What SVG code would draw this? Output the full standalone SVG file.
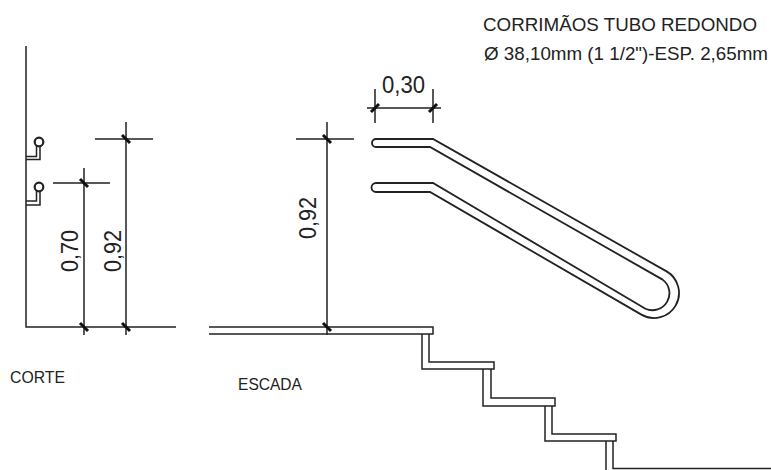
<svg xmlns="http://www.w3.org/2000/svg" width="771" height="470" viewBox="0 0 771 470">
<style>
.l{fill:none;stroke:#222;stroke-width:1.5}
.r{fill:none;stroke:#222;stroke-width:1.8}
.k{fill:none;stroke:#222;stroke-width:2.200}
.t{stroke:#111;stroke-width:3;fill:none}
text{font-family:"Liberation Sans",Arial,sans-serif;fill:#222}
.d{font-size:23px}
.s{font-size:19px}
.n{font-size:17px}
</style>
<rect width="771" height="470" fill="#fff"/>
<g id="parede">
<path class="l" d="M26 46V327H176"/>
</g>
<g id="corrimao-corte-1">
<circle class="k" cx="39" cy="142" r="4.300"/>
<path class="l" d="M26 156.500H36.500V146M26 159.500H40V146"/>
</g>
<g id="corrimao-corte-2">
<circle class="k" cx="39" cy="187" r="4.300"/>
<path class="l" d="M26 201H36.500V191M26 205H40V191"/>
</g>
<g id="corrimao">
<path class="r" d="M433 139H376A3.800 3.800 0 0 0 376 147H430L662.600 279.600A17 17 0 0 1 645.400 308.700L433 183H376A4 4 0 0 0 376 192H430L641.400 314.600A25 25 0 0 0 666.600 271.400Z"/>
</g>
<g id="escada">
<path class="l" d="M209 327H433V334H209M422 334V369H494V362H429V334M483 369V406H555V398H491V369M545 406V441H616V434H552V406M606 441V470M613 441V468.500H771"/>
</g>
<g id="connectors">
<path class="l" d="M84 168V335M53 183H110M126 122V335M95 139H153M327 122V335M296 139H354M375 89V123M433 89V123M367 108H441"/>
<path class="t" d="M80 179L88 187M122 135L130 143M323 135L331 143M371 112L379 104M429 112L437 104M80 323L88 331M122 323L130 331M323 323L331 331"/>
</g>
<g id="textos">
<text class="s" x="483" y="31" textLength="274" lengthAdjust="spacingAndGlyphs">CORRIMÃOS TUBO REDONDO</text>
<text class="s" x="484" y="60" textLength="284" lengthAdjust="spacingAndGlyphs">Ø 38,10mm (1 1/2")-ESP. 2,65mm</text>
<text class="d" x="382" y="93" textLength="43" lengthAdjust="spacingAndGlyphs">0,30</text>
<text class="d" transform="translate(78 272) rotate(-90)" textLength="42" lengthAdjust="spacingAndGlyphs">0,70</text>
<text class="d" transform="translate(121 272) rotate(-90)" textLength="42" lengthAdjust="spacingAndGlyphs">0,92</text>
<text class="d" transform="translate(316 239) rotate(-90)" textLength="42" lengthAdjust="spacingAndGlyphs">0,92</text>
<text class="n" x="10" y="383" textLength="55" lengthAdjust="spacingAndGlyphs">CORTE</text>
<text class="n" x="238" y="390" textLength="64" lengthAdjust="spacingAndGlyphs">ESCADA</text>
</g>
</svg>
